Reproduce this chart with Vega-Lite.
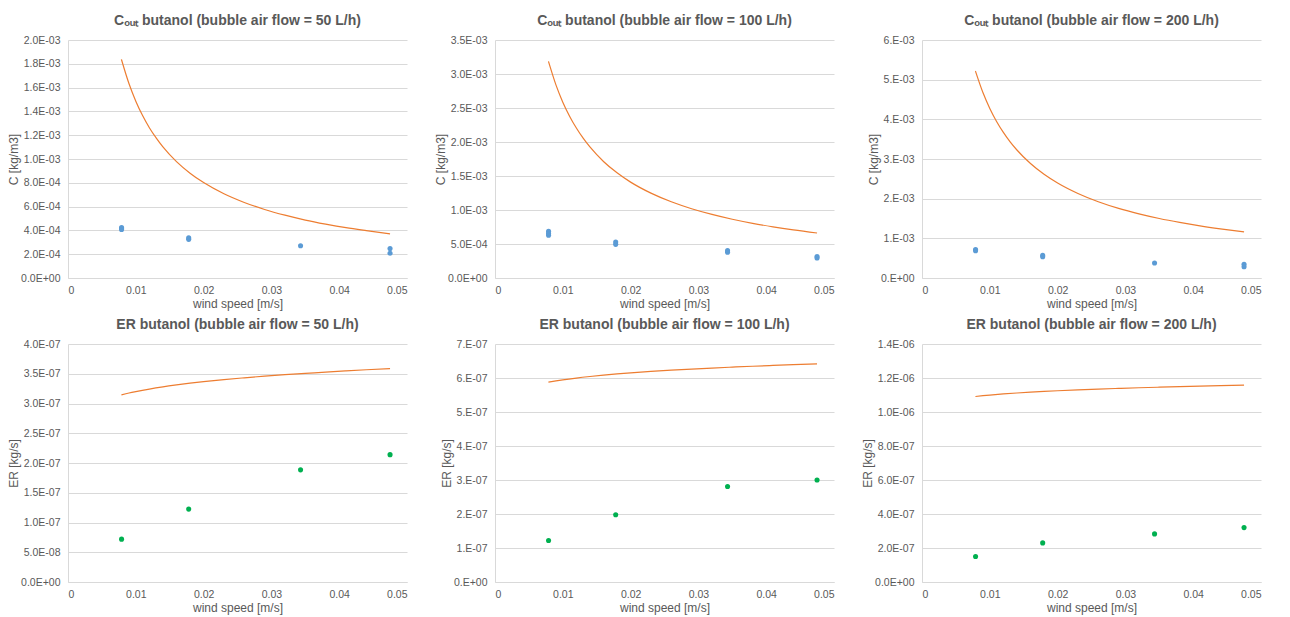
{
  "$schema": "https://vega.github.io/schema/vega-lite/v6.json",
  "padding": {"left": 7, "top": 14, "right": 5, "bottom": 3},
  "background": "white",
  "bounds": "flush",
  "columns": 3,
  "spacing": {"row": 66, "column": 88},
  "config": {
    "font": "Liberation Sans",
    "view": {"stroke": null},
    "axis": {
      "labelColor": "#595959", "titleColor": "#595959", "labelFontSize": 10.5, "titleFontSize": 12,
      "titleFontWeight": "normal", "gridColor": "#d9d9d9", "domainColor": "#d9d9d9", "ticks": false,
      "labelPadding": 8, "labelFont": "Liberation Sans", "titleFont": "Liberation Sans"
    },
    "axisX": {"grid": false, "labelPadding": 7, "titlePadding": 3},
    "axisY": {"titlePadding": 0},
    "title": {"fontSize": 14, "fontWeight": "bold", "color": "#595959", "offset": 7, "font": "Liberation Sans"}
  },
  "datasets": {
    "d": [
      {"p":1,"k":"model","x":0.00788,"y":0.001837},{"p":1,"k":"model","x":0.009,"y":0.001632},{"p":1,"k":"model","x":0.010,"y":0.001486},{"p":1,"k":"model","x":0.011,"y":0.001365},{"p":1,"k":"model","x":0.012,"y":0.001263},{"p":1,"k":"model","x":0.013,"y":0.001177},{"p":1,"k":"model","x":0.014,"y":0.001101},{"p":1,"k":"model","x":0.016,"y":0.000978},{"p":1,"k":"model","x":0.018,"y":0.000881},{"p":1,"k":"model","x":0.020,"y":0.000802},{"p":1,"k":"model","x":0.023,"y":0.000708},{"p":1,"k":"model","x":0.026,"y":0.000635},{"p":1,"k":"model","x":0.029,"y":0.000576},{"p":1,"k":"model","x":0.032,"y":0.000528},{"p":1,"k":"model","x":0.035,"y":0.000487},{"p":1,"k":"model","x":0.038,"y":0.000453},{"p":1,"k":"model","x":0.041,"y":0.000423},{"p":1,"k":"model","x":0.044,"y":0.000398},{"p":1,"k":"model","x":0.0475,"y":0.000371},
      {"p":2,"k":"model","x":0.00788,"y":0.003186},{"p":2,"k":"model","x":0.009,"y":0.002836},{"p":2,"k":"model","x":0.010,"y":0.002586},{"p":2,"k":"model","x":0.011,"y":0.002380},{"p":2,"k":"model","x":0.012,"y":0.002205},{"p":2,"k":"model","x":0.013,"y":0.002056},{"p":2,"k":"model","x":0.014,"y":0.001927},{"p":2,"k":"model","x":0.016,"y":0.001714},{"p":2,"k":"model","x":0.018,"y":0.001547},{"p":2,"k":"model","x":0.020,"y":0.001410},{"p":2,"k":"model","x":0.023,"y":0.001248},{"p":2,"k":"model","x":0.026,"y":0.001121},{"p":2,"k":"model","x":0.029,"y":0.001019},{"p":2,"k":"model","x":0.032,"y":0.000935},{"p":2,"k":"model","x":0.035,"y":0.000864},{"p":2,"k":"model","x":0.038,"y":0.000804},{"p":2,"k":"model","x":0.041,"y":0.000753},{"p":2,"k":"model","x":0.044,"y":0.000708},{"p":2,"k":"model","x":0.0475,"y":0.000662},
      {"p":3,"k":"model","x":0.00788,"y":0.005217},{"p":3,"k":"model","x":0.009,"y":0.004668},{"p":3,"k":"model","x":0.010,"y":0.004275},{"p":3,"k":"model","x":0.011,"y":0.003947},{"p":3,"k":"model","x":0.012,"y":0.003671},{"p":3,"k":"model","x":0.013,"y":0.003433},{"p":3,"k":"model","x":0.014,"y":0.003227},{"p":3,"k":"model","x":0.016,"y":0.002886},{"p":3,"k":"model","x":0.018,"y":0.002615},{"p":3,"k":"model","x":0.020,"y":0.002395},{"p":3,"k":"model","x":0.023,"y":0.002131},{"p":3,"k":"model","x":0.026,"y":0.001923},{"p":3,"k":"model","x":0.029,"y":0.001755},{"p":3,"k":"model","x":0.032,"y":0.001617},{"p":3,"k":"model","x":0.035,"y":0.001500},{"p":3,"k":"model","x":0.038,"y":0.001401},{"p":3,"k":"model","x":0.041,"y":0.001314},{"p":3,"k":"model","x":0.044,"y":0.001239},{"p":3,"k":"model","x":0.0475,"y":0.001162},
      {"p":4,"k":"model","x":0.00788,"y":3.145e-7},{"p":4,"k":"model","x":0.009,"y":3.176e-7},{"p":4,"k":"model","x":0.010,"y":3.200e-7},{"p":4,"k":"model","x":0.012,"y":3.243e-7},{"p":4,"k":"model","x":0.014,"y":3.280e-7},{"p":4,"k":"model","x":0.016,"y":3.312e-7},{"p":4,"k":"model","x":0.018,"y":3.341e-7},{"p":4,"k":"model","x":0.020,"y":3.367e-7},{"p":4,"k":"model","x":0.023,"y":3.402e-7},{"p":4,"k":"model","x":0.026,"y":3.432e-7},{"p":4,"k":"model","x":0.029,"y":3.460e-7},{"p":4,"k":"model","x":0.032,"y":3.485e-7},{"p":4,"k":"model","x":0.035,"y":3.506e-7},{"p":4,"k":"model","x":0.038,"y":3.528e-7},{"p":4,"k":"model","x":0.041,"y":3.548e-7},{"p":4,"k":"model","x":0.044,"y":3.567e-7},{"p":4,"k":"model","x":0.0475,"y":3.587e-7},
      {"p":5,"k":"model","x":0.00788,"y":5.877e-7},{"p":5,"k":"model","x":0.009,"y":5.915e-7},{"p":5,"k":"model","x":0.010,"y":5.946e-7},{"p":5,"k":"model","x":0.012,"y":5.999e-7},{"p":5,"k":"model","x":0.014,"y":6.044e-7},{"p":5,"k":"model","x":0.016,"y":6.084e-7},{"p":5,"k":"model","x":0.018,"y":6.119e-7},{"p":5,"k":"model","x":0.020,"y":6.150e-7},{"p":5,"k":"model","x":0.023,"y":6.192e-7},{"p":5,"k":"model","x":0.026,"y":6.229e-7},{"p":5,"k":"model","x":0.029,"y":6.263e-7},{"p":5,"k":"model","x":0.032,"y":6.293e-7},{"p":5,"k":"model","x":0.035,"y":6.320e-7},{"p":5,"k":"model","x":0.038,"y":6.346e-7},{"p":5,"k":"model","x":0.041,"y":6.369e-7},{"p":5,"k":"model","x":0.044,"y":6.391e-7},{"p":5,"k":"model","x":0.0475,"y":6.415e-7},
      {"p":6,"k":"model","x":0.00788,"y":1.0911e-6},{"p":6,"k":"model","x":0.009,"y":1.0959e-6},{"p":6,"k":"model","x":0.010,"y":1.0997e-6},{"p":6,"k":"model","x":0.012,"y":1.1063e-6},{"p":6,"k":"model","x":0.014,"y":1.1119e-6},{"p":6,"k":"model","x":0.016,"y":1.1169e-6},{"p":6,"k":"model","x":0.018,"y":1.1212e-6},{"p":6,"k":"model","x":0.020,"y":1.1251e-6},{"p":6,"k":"model","x":0.023,"y":1.1303e-6},{"p":6,"k":"model","x":0.026,"y":1.1349e-6},{"p":6,"k":"model","x":0.029,"y":1.1389e-6},{"p":6,"k":"model","x":0.032,"y":1.1427e-6},{"p":6,"k":"model","x":0.035,"y":1.1460e-6},{"p":6,"k":"model","x":0.038,"y":1.1491e-6},{"p":6,"k":"model","x":0.041,"y":1.1520e-6},{"p":6,"k":"model","x":0.044,"y":1.1547e-6},{"p":6,"k":"model","x":0.0475,"y":1.1576e-6},
      {"p":1,"k":"exp","x":0.0079,"y":0.000425},{"p":1,"k":"exp","x":0.0079,"y":0.000415},{"p":1,"k":"exp","x":0.0079,"y":0.000407},{"p":1,"k":"exp","x":0.0178,"y":0.000337},{"p":1,"k":"exp","x":0.0178,"y":0.000325},{"p":1,"k":"exp","x":0.0343,"y":0.000271},{"p":1,"k":"exp","x":0.0475,"y":0.000247},{"p":1,"k":"exp","x":0.0475,"y":0.000208},
      {"p":2,"k":"exp","x":0.0079,"y":0.000685},{"p":2,"k":"exp","x":0.0079,"y":0.000655},{"p":2,"k":"exp","x":0.0079,"y":0.00063},{"p":2,"k":"exp","x":0.0178,"y":0.00053},{"p":2,"k":"exp","x":0.0178,"y":0.000495},{"p":2,"k":"exp","x":0.0343,"y":0.000402},{"p":2,"k":"exp","x":0.0343,"y":0.00038},{"p":2,"k":"exp","x":0.0475,"y":0.000315},{"p":2,"k":"exp","x":0.0475,"y":0.000295},
      {"p":3,"k":"exp","x":0.0079,"y":0.00072},{"p":3,"k":"exp","x":0.0079,"y":0.00069},{"p":3,"k":"exp","x":0.0178,"y":0.00057},{"p":3,"k":"exp","x":0.0178,"y":0.000535},{"p":3,"k":"exp","x":0.0343,"y":0.00038},{"p":3,"k":"exp","x":0.0475,"y":0.000345},{"p":3,"k":"exp","x":0.0475,"y":0.000285},
      {"p":4,"k":"exp","x":0.0079,"y":7.2e-8},{"p":4,"k":"exp","x":0.0178,"y":1.225e-7},{"p":4,"k":"exp","x":0.0343,"y":1.885e-7},{"p":4,"k":"exp","x":0.0475,"y":2.14e-7},
      {"p":5,"k":"exp","x":0.0079,"y":1.22e-7},{"p":5,"k":"exp","x":0.0178,"y":1.98e-7},{"p":5,"k":"exp","x":0.0343,"y":2.81e-7},{"p":5,"k":"exp","x":0.0475,"y":3.0e-7},
      {"p":6,"k":"exp","x":0.0079,"y":1.5e-7},{"p":6,"k":"exp","x":0.0178,"y":2.3e-7},{"p":6,"k":"exp","x":0.0343,"y":2.83e-7},{"p":6,"k":"exp","x":0.0475,"y":3.2e-7}
    ]
  },
  "concat": [
    {
      "width": 339, "height": 238,
      "title": "Cₒᵤₜ butanol (bubble air flow = 50 L/h)",
      "data": {"name": "d"},
      "transform": [{"filter": "datum.p == 1"}],
      "encoding": {
        "x": {"field": "x", "type": "quantitative", "scale": {"domain": [0, 0.05]}, "axis": {"title": "wind speed [m/s]", "values": [0, 0.01, 0.02, 0.03, 0.04, 0.05], "labelExpr": "datum.value == 0 ? '0' : format(datum.value, '.2f')"}},
        "y": {"field": "y", "type": "quantitative", "scale": {"domain": [0, 0.002]}, "axis": {"title": "C [kg/m3]", "values": [0, 0.0002, 0.0004, 0.0006, 0.0008, 0.001, 0.0012, 0.0014, 0.0016, 0.0018, 0.002], "labelExpr": "datum.value == 0 ? '0.0E+00' : format(datum.value / pow(10, floor(log(datum.value) / LN10 + 1e-9)), '.1f') + 'E' + (floor(log(datum.value) / LN10 + 1e-9) < 0 ? '-' : '+') + (abs(floor(log(datum.value) / LN10 + 1e-9)) < 10 ? '0' : '') + abs(floor(log(datum.value) / LN10 + 1e-9))"}}
      },
      "layer": [
        {"transform": [{"filter": "datum.k == 'model'"}], "mark": {"type": "line", "color": "#ED7D31", "strokeWidth": 1.2, "interpolate": "monotone"}},
        {"transform": [{"filter": "datum.k == 'exp'"}], "mark": {"type": "circle", "color": "#5B9BD5", "size": 26, "opacity": 1}}
      ]
    },
    {
      "width": 339, "height": 238,
      "title": "Cₒᵤₜ butanol (bubble air flow = 100 L/h)",
      "data": {"name": "d"},
      "transform": [{"filter": "datum.p == 2"}],
      "encoding": {
        "x": {"field": "x", "type": "quantitative", "scale": {"domain": [0, 0.05]}, "axis": {"title": "wind speed [m/s]", "values": [0, 0.01, 0.02, 0.03, 0.04, 0.05], "labelExpr": "datum.value == 0 ? '0' : format(datum.value, '.2f')"}},
        "y": {"field": "y", "type": "quantitative", "scale": {"domain": [0, 0.0035]}, "axis": {"title": "C [kg/m3]", "values": [0, 0.0005, 0.001, 0.0015, 0.002, 0.0025, 0.003, 0.0035], "labelExpr": "datum.value == 0 ? '0.0E+00' : format(datum.value / pow(10, floor(log(datum.value) / LN10 + 1e-9)), '.1f') + 'E' + (floor(log(datum.value) / LN10 + 1e-9) < 0 ? '-' : '+') + (abs(floor(log(datum.value) / LN10 + 1e-9)) < 10 ? '0' : '') + abs(floor(log(datum.value) / LN10 + 1e-9))"}}
      },
      "layer": [
        {"transform": [{"filter": "datum.k == 'model'"}], "mark": {"type": "line", "color": "#ED7D31", "strokeWidth": 1.2, "interpolate": "monotone"}},
        {"transform": [{"filter": "datum.k == 'exp'"}], "mark": {"type": "circle", "color": "#5B9BD5", "size": 26, "opacity": 1}}
      ]
    },
    {
      "width": 339, "height": 238,
      "title": "Cₒᵤₜ butanol (bubble air flow = 200 L/h)",
      "data": {"name": "d"},
      "transform": [{"filter": "datum.p == 3"}],
      "encoding": {
        "x": {"field": "x", "type": "quantitative", "scale": {"domain": [0, 0.05]}, "axis": {"title": "wind speed [m/s]", "values": [0, 0.01, 0.02, 0.03, 0.04, 0.05], "labelExpr": "datum.value == 0 ? '0' : format(datum.value, '.2f')"}},
        "y": {"field": "y", "type": "quantitative", "scale": {"domain": [0, 0.006]}, "axis": {"title": "C [kg/m3]", "values": [0, 0.001, 0.002, 0.003, 0.004, 0.005, 0.006], "labelExpr": "datum.value == 0 ? '0.E+00' : format(datum.value / pow(10, floor(log(datum.value) / LN10 + 1e-9)), '.0f') + '.E' + (floor(log(datum.value) / LN10 + 1e-9) < 0 ? '-' : '+') + (abs(floor(log(datum.value) / LN10 + 1e-9)) < 10 ? '0' : '') + abs(floor(log(datum.value) / LN10 + 1e-9))"}}
      },
      "layer": [
        {"transform": [{"filter": "datum.k == 'model'"}], "mark": {"type": "line", "color": "#ED7D31", "strokeWidth": 1.2, "interpolate": "monotone"}},
        {"transform": [{"filter": "datum.k == 'exp'"}], "mark": {"type": "circle", "color": "#5B9BD5", "size": 26, "opacity": 1}}
      ]
    },
    {
      "width": 339, "height": 238,
      "title": "ER butanol (bubble air flow = 50 L/h)",
      "data": {"name": "d"},
      "transform": [{"filter": "datum.p == 4"}],
      "encoding": {
        "x": {"field": "x", "type": "quantitative", "scale": {"domain": [0, 0.05]}, "axis": {"title": "wind speed [m/s]", "values": [0, 0.01, 0.02, 0.03, 0.04, 0.05], "labelExpr": "datum.value == 0 ? '0' : format(datum.value, '.2f')"}},
        "y": {"field": "y", "type": "quantitative", "scale": {"domain": [0, 4e-7]}, "axis": {"title": "ER [kg/s]", "values": [0, 5e-8, 1e-7, 1.5e-7, 2e-7, 2.5e-7, 3e-7, 3.5e-7, 4e-7], "labelExpr": "datum.value == 0 ? '0.0E+00' : format(datum.value / pow(10, floor(log(datum.value) / LN10 + 1e-9)), '.1f') + 'E' + (floor(log(datum.value) / LN10 + 1e-9) < 0 ? '-' : '+') + (abs(floor(log(datum.value) / LN10 + 1e-9)) < 10 ? '0' : '') + abs(floor(log(datum.value) / LN10 + 1e-9))"}}
      },
      "layer": [
        {"transform": [{"filter": "datum.k == 'model'"}], "mark": {"type": "line", "color": "#ED7D31", "strokeWidth": 1.2, "interpolate": "monotone"}},
        {"transform": [{"filter": "datum.k == 'exp'"}], "mark": {"type": "circle", "color": "#00B050", "size": 26, "opacity": 1}}
      ]
    },
    {
      "width": 339, "height": 238,
      "title": "ER butanol (bubble air flow = 100 L/h)",
      "data": {"name": "d"},
      "transform": [{"filter": "datum.p == 5"}],
      "encoding": {
        "x": {"field": "x", "type": "quantitative", "scale": {"domain": [0, 0.05]}, "axis": {"title": "wind speed [m/s]", "values": [0, 0.01, 0.02, 0.03, 0.04, 0.05], "labelExpr": "datum.value == 0 ? '0' : format(datum.value, '.2f')"}},
        "y": {"field": "y", "type": "quantitative", "scale": {"domain": [0, 7e-7]}, "axis": {"title": "ER [kg/s]", "values": [0, 1e-7, 2e-7, 3e-7, 4e-7, 5e-7, 6e-7, 7e-7], "labelExpr": "datum.value == 0 ? '0.E+00' : format(datum.value / pow(10, floor(log(datum.value) / LN10 + 1e-9)), '.0f') + '.E' + (floor(log(datum.value) / LN10 + 1e-9) < 0 ? '-' : '+') + (abs(floor(log(datum.value) / LN10 + 1e-9)) < 10 ? '0' : '') + abs(floor(log(datum.value) / LN10 + 1e-9))"}}
      },
      "layer": [
        {"transform": [{"filter": "datum.k == 'model'"}], "mark": {"type": "line", "color": "#ED7D31", "strokeWidth": 1.2, "interpolate": "monotone"}},
        {"transform": [{"filter": "datum.k == 'exp'"}], "mark": {"type": "circle", "color": "#00B050", "size": 26, "opacity": 1}}
      ]
    },
    {
      "width": 339, "height": 238,
      "title": "ER butanol (bubble air flow = 200 L/h)",
      "data": {"name": "d"},
      "transform": [{"filter": "datum.p == 6"}],
      "encoding": {
        "x": {"field": "x", "type": "quantitative", "scale": {"domain": [0, 0.05]}, "axis": {"title": "wind speed [m/s]", "values": [0, 0.01, 0.02, 0.03, 0.04, 0.05], "labelExpr": "datum.value == 0 ? '0' : format(datum.value, '.2f')"}},
        "y": {"field": "y", "type": "quantitative", "scale": {"domain": [0, 1.4e-6]}, "axis": {"title": "ER [kg/s]", "values": [0, 2e-7, 4e-7, 6e-7, 8e-7, 1e-6, 1.2e-6, 1.4e-6], "labelExpr": "datum.value == 0 ? '0.0E+00' : format(datum.value / pow(10, floor(log(datum.value) / LN10 + 1e-9)), '.1f') + 'E' + (floor(log(datum.value) / LN10 + 1e-9) < 0 ? '-' : '+') + (abs(floor(log(datum.value) / LN10 + 1e-9)) < 10 ? '0' : '') + abs(floor(log(datum.value) / LN10 + 1e-9))"}}
      },
      "layer": [
        {"transform": [{"filter": "datum.k == 'model'"}], "mark": {"type": "line", "color": "#ED7D31", "strokeWidth": 1.2, "interpolate": "monotone"}},
        {"transform": [{"filter": "datum.k == 'exp'"}], "mark": {"type": "circle", "color": "#00B050", "size": 26, "opacity": 1}}
      ]
    }
  ]
}
